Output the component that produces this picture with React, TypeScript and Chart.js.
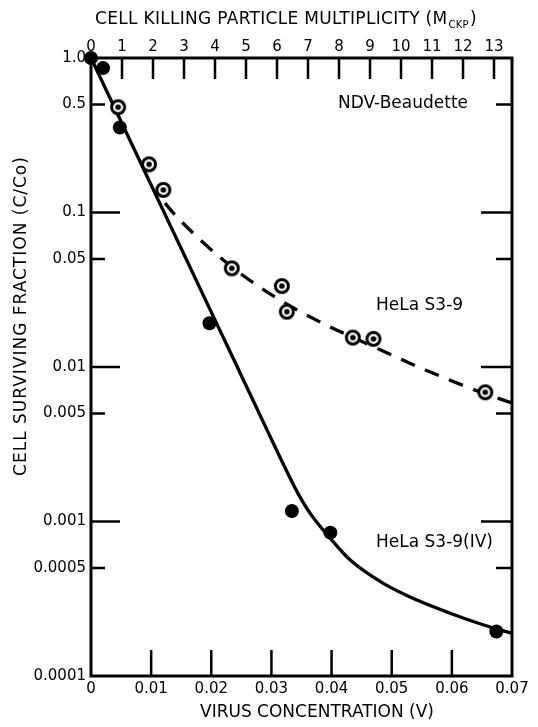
import React, { useEffect, useRef } from "react";
import { Chart, registerables } from "chart.js";

Chart.register(...registerables);

const FONT = '"DejaVu Sans", "Noto Sans", sans-serif';

// Axis ticks
const virusTicks = [0, 0.01, 0.02, 0.03, 0.04, 0.05, 0.06, 0.07];
const virusTickLabels = ["0", "0.01", "0.02", "0.03", "0.04", "0.05", "0.06", "0.07"];
const multiplicityTicks = [0, 1, 2, 3, 4, 5, 6, 7, 8, 9, 10, 11, 12, 13];
const multiplicityMax = 13.58;
const survivalTicks = [1, 0.5, 0.1, 0.05, 0.01, 0.005, 0.001, 0.0005, 0.0001];
const survivalTickLabels = ["1.0", "0.5", "0.1", "0.05", "0.01", "0.005", "0.001", "0.0005", "0.0001"];

// HeLa S3-9(IV) measured points (filled)
const ivPointsX = [0, 0.002, 0.0048, 0.0197, 0.0334, 0.0398, 0.0674];
const ivPointsY = [1.0, 0.86, 0.355, 0.0192, 0.00117, 0.000847, 0.000194];

// HeLa S3-9 measured points (open)
const s39PointsX = [0.0045, 0.00965, 0.01203, 0.02341, 0.03173, 0.03256, 0.04354, 0.04697, 0.06556];
const s39PointsY = [0.48, 0.205, 0.14, 0.0435, 0.0334, 0.0228, 0.0155, 0.0152, 0.00686];

// Fitted curve HeLa S3-9(IV) (solid)
const ivCurveX = [0, 0.01, 0.02, 0.03, 0.032, 0.0343, 0.0365, 0.0398, 0.0431, 0.0486, 0.0542, 0.0597, 0.0653, 0.07];
const ivCurveY = [1.0, 0.1506, 0.02267, 0.00341, 0.00234, 0.00155, 0.00112, 0.000778, 0.000563, 0.000398, 0.00031, 0.000255, 0.000214, 0.000189];

// Fitted curve HeLa S3-9 (dashed)
const s39CurveX = [0.0123, 0.0143, 0.0226, 0.0306, 0.0384, 0.0456, 0.0556, 0.0647, 0.07];
const s39CurveY = [0.1151, 0.0935, 0.0471, 0.0284, 0.01927, 0.0143, 0.00957, 0.00689, 0.00585];

const zip = (xs: number[], ys: number[]) => xs.map((x, i) => ({ x, y: ys[i] }));

function makeBullseye(): HTMLCanvasElement {
  const c = document.createElement("canvas");
  c.width = 20;
  c.height = 20;
  const g = c.getContext("2d")!;
  g.beginPath();
  g.arc(10, 10, 6.5, 0, Math.PI * 2);
  g.fillStyle = "#fff";
  g.fill();
  g.lineWidth = 3;
  g.strokeStyle = "#000";
  g.stroke();
  g.beginPath();
  g.arc(10, 10, 2.8, 0, Math.PI * 2);
  g.fillStyle = "#000";
  g.fill();
  return c;
}

const isDecade = (v: number) => Math.abs(Math.log10(v) - Math.round(Math.log10(v))) < 1e-6;

const decorPlugin = {
  id: "decor",
  beforeDatasetsDraw(chart: any) {
    const { ctx, chartArea, scales } = chart;
    const { left, right, top, bottom } = chartArea;
    ctx.save();
    ctx.strokeStyle = "#000";
    ctx.lineWidth = 3;
    ctx.strokeRect(left, top, right - left, bottom - top);
    ctx.lineWidth = 2.5;
    ctx.beginPath();
    survivalTicks.forEach((v) => {
      if (v === 1 || v === 0.0001) return;
      const y = scales.y.getPixelForValue(v);
      const major = isDecade(v);
      const lenL = major ? 29 : 14;
      const lenR = major ? 31 : 16;
      ctx.moveTo(left, y);
      ctx.lineTo(left + lenL, y);
      ctx.moveTo(right, y);
      ctx.lineTo(right - lenR, y);
    });
    virusTicks.forEach((v) => {
      if (v === 0 || v === 0.07) return;
      const x = scales.x.getPixelForValue(v);
      ctx.moveTo(x, bottom);
      ctx.lineTo(x, bottom - 26);
    });
    multiplicityTicks.forEach((v) => {
      if (v === 0) return;
      const x = scales.x2.getPixelForValue(v);
      ctx.moveTo(x, top);
      ctx.lineTo(x, top + 21);
    });
    ctx.stroke();
    ctx.restore();
  },
  afterDraw(chart: any) {
    const { ctx } = chart;
    ctx.save();
    ctx.fillStyle = "#000";
    ctx.textAlign = "left";
    ctx.textBaseline = "alphabetic";
    // Top title with subscript
    const t1 = "CELL KILLING PARTICLE MULTIPLICITY (M";
    ctx.font = `17px ${FONT}`;
    (ctx as any).letterSpacing = "0.3px";
    let x = 95;
    ctx.fillText(t1, x, 24);
    x += ctx.measureText(t1).width;
    ctx.font = `10px ${FONT}`;
    ctx.fillText("CKP", x + 1, 28);
    x += ctx.measureText("CKP").width + 2;
    ctx.font = `17px ${FONT}`;
    ctx.fillText(")", x, 24);
    (ctx as any).letterSpacing = "0px";

    // Bottom title
    ctx.textAlign = "center";
    ctx.fillText("VIRUS CONCENTRATION (V)", 317, 717);

    // Annotations
    ctx.textAlign = "right";
    ctx.fillText("NDV-Beaudette", 468, 108);
    ctx.textAlign = "left";
    ctx.fillText("HeLa S3-9", 376, 310);
    ctx.fillText("HeLa S3-9(IV)", 376, 547);

    // Left title
    ctx.translate(22, 316);
    ctx.rotate(-Math.PI / 2);
    ctx.textAlign = "center";
    ctx.textBaseline = "middle";
    (ctx as any).letterSpacing = "1px";
    ctx.fillText("CELL SURVIVING FRACTION (C/Co)", 0, 0);
    (ctx as any).letterSpacing = "0px";
    ctx.restore();
  },
};

export default function App() {
  const ref = useRef<HTMLCanvasElement>(null);
  useEffect(() => {
    if (!ref.current) return;
    const tickFont = { family: FONT, size: 15 };
    const chart = new Chart(ref.current, {
      type: "scatter",
      data: {
        datasets: [
          {
            label: "HeLa S3-9 points",
            data: zip(s39PointsX, s39PointsY),
            showLine: false,
            pointStyle: makeBullseye() as any,
            pointRadius: 8,
            clip: false as any,
            order: 0,
          },
          {
            label: "HeLa S3-9(IV) points",
            data: zip(ivPointsX, ivPointsY),
            showLine: false,
            pointStyle: "circle",
            pointRadius: 7,
            pointBorderWidth: 0,
            pointBackgroundColor: "#000",
            clip: false as any,
            order: 1,
          },
          {
            label: "HeLa S3-9 curve",
            data: zip(s39CurveX, s39CurveY),
            showLine: true,
            pointRadius: 0,
            borderColor: "#000",
            borderWidth: 3.3,
            borderDash: [15, 11],
            cubicInterpolationMode: "monotone",
            order: 2,
          },
          {
            label: "HeLa S3-9(IV) curve",
            data: zip(ivCurveX, ivCurveY),
            showLine: true,
            pointRadius: 0,
            borderColor: "#000",
            borderWidth: 3.3,
            cubicInterpolationMode: "monotone",
            order: 3,
          },
        ],
      },
      options: {
        responsive: false,
        animation: false,
        devicePixelRatio: 1,
        layout: { padding: { left: 0, right: 26, top: 0, bottom: 0 } },
        plugins: { legend: { display: false }, tooltip: { enabled: false } },
        scales: {
          x: {
            type: "linear",
            position: "bottom",
            min: 0,
            max: 0.07,
            afterBuildTicks: (s: any) => {
              s.ticks = virusTicks.map((v) => ({ value: v }));
            },
            afterFit: (s: any) => {
              s.height = 51;
            },
            grid: { display: false, drawTicks: false },
            border: { display: false },
            ticks: {
              autoSkip: false,
              maxRotation: 0,
              padding: 4,
              color: "#000",
              font: tickFont,
              callback: (_v: any, i: number) => virusTickLabels[i],
            },
          },
          x2: {
            type: "linear",
            position: "top",
            min: 0,
            max: multiplicityMax,
            afterBuildTicks: (s: any) => {
              s.ticks = multiplicityTicks.map((v) => ({ value: v }));
            },
            afterFit: (s: any) => {
              s.height = 58;
            },
            grid: { display: false, drawTicks: false },
            border: { display: false },
            ticks: {
              autoSkip: false,
              maxRotation: 0,
              padding: 2,
              color: "#000",
              font: tickFont,
              callback: (_v: any, i: number) => String(multiplicityTicks[i]),
            },
          },
          y: {
            type: "logarithmic",
            position: "left",
            min: 0.0001,
            max: 1,
            afterBuildTicks: (s: any) => {
              s.ticks = survivalTicks.map((v) => ({ value: v }));
            },
            afterFit: (s: any) => {
              s.width = 91;
            },
            grid: { display: false, drawTicks: false },
            border: { display: false },
            ticks: {
              autoSkip: false,
              padding: 5,
              color: "#000",
              font: tickFont,
              callback: (_v: any, i: number) => survivalTickLabels[i],
            },
          },
        },
      },
      plugins: [decorPlugin],
    });
    return () => chart.destroy();
  }, []);
  return (
    <div style={{ position: "absolute", left: 0, top: 0, width: 538, height: 727, background: "#fff" }}>
      <canvas ref={ref} width={538} height={727} style={{ display: "block" }} />
    </div>
  );
}
